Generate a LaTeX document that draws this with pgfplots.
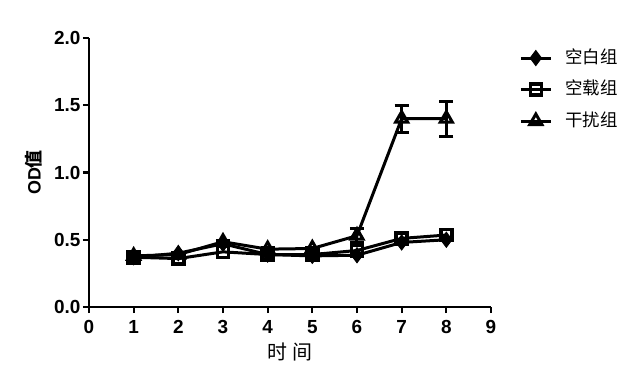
\documentclass[border=0pt]{standalone}
\usepackage{pgfplots}
\pgfplotsset{compat=1.18}
\usepackage{fontspec}
\setmainfont{Liberation Sans}
\newfontfamily\cjk{Noto Sans CJK SC}
\begin{document}
\begin{tikzpicture}[x=1bp,y=1bp]
\begin{axis}[
  at={(0,0)}, anchor=origin,
  scale only axis, width=402bp, height=269bp,
  xmin=0, xmax=9, ymin=0, ymax=2,
  axis x line*=bottom, axis y line*=left,
  axis line style={line width=2.4bp, -},
  xtick={0,1,...,9}, ytick={0,0.5,1,1.5,2},
  tick align=outside, major tick length=6bp,
  tick style={line width=2.2bp, black},
  /pgf/number format/assume math mode=true,
  yticklabel style={font=\fontsize{19}{19}\selectfont\bfseries, xshift=1bp, /pgf/number format/.cd, fixed, fixed zerofill, precision=1},
  xticklabel style={font=\fontsize{19}{19}\selectfont\bfseries, yshift=-4bp},
  xlabel={\cjk\fontsize{20}{20}\selectfont 时\hspace{5bp}间},
  ylabel={OD{\cjk\bfseries 值}},
  xlabel style={yshift=-2bp},
  ylabel style={yshift=5bp, font=\bfseries\fontsize{18}{18}\selectfont},
  legend style={draw=none, fill=none, at={(1.07,0.956)}, anchor=north west,
    font=\cjk\fontsize{17.5}{17.5}\selectfont, row sep=15.5bp, column sep=13bp, inner sep=0pt,
    nodes={inner sep=0pt, text height=13bp, text depth=3bp}},
  legend cell align=left,
  legend image code/.code={\draw[mark repeat=2, mark phase=2] plot coordinates {(0bp,0bp) (15bp,0bp) (30bp,0bp)};},
  every axis plot/.append style={line width=3bp, black},
  error bars/error bar style={line width=3bp},
  error bars/error mark options={rotate=90, mark size=7bp, line width=3bp},
]
\addplot[mark=diamond*, mark size=7.5bp, mark options={fill=black, line width=1bp}] coordinates {
(1,0.37) (2,0.40) (3,0.47) (4,0.39) (5,0.38) (6,0.385) (7,0.48) (8,0.50)};
\addlegendentry{空白组}
\addplot[mark=square, mark size=5.5bp, mark options={fill=white, line width=3.6bp}] coordinates {
(1,0.37) (2,0.36) (3,0.41) (4,0.39) (5,0.39) (6,0.42) (7,0.51) (8,0.535)};
\addlegendentry{空载组}
\addplot[mark=triangle, mark size=7bp, mark options={fill=white, line width=3bp},
  error bars/.cd, y dir=both, y explicit] coordinates {
(1,0.38) +- (0,0.01)
(2,0.39) +- (0,0.01)
(3,0.485) +- (0,0.01)
(4,0.43) +- (0,0.01)
(5,0.435) +- (0,0.01)
(6,0.53) +- (0,0.05)
(7,1.40) +- (0,0.10)
(8,1.40) +- (0,0.13)};
\addlegendentry{干扰组}
\end{axis}
\pgfresetboundingbox
\path (-89bp,-82bp) rectangle (551bp,307bp);
\end{tikzpicture}
\end{document}
